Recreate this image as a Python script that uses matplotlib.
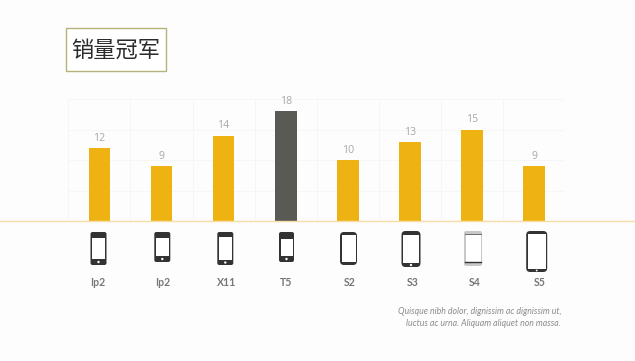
import matplotlib
matplotlib.use('Agg')
import matplotlib.pyplot as plt
from matplotlib.patches import FancyBboxPatch, Rectangle, Circle

W, H = 635, 361

names = ['Ip2', 'Ip2', 'X11', 'T5', 'S2', 'S3', 'S4', 'S5']
sales = [12, 9, 14, 18, 10, 13, 15, 9]
bar_colors = ['#eeb313', '#eeb313', '#eeb313', '#5a5a54', '#eeb313', '#eeb313', '#eeb313', '#eeb313']
title = '销量冠军'
note = 'Quisque nibh dolor, dignissim ac dignissim ut,\nluctus ac urna. Aliquam aliquet non massa.'

# label positions drift away from the bars in the original slide
name_x = [98, 163, 227, 286, 349.5, 413, 475, 540]

# phone icons: centre x, top, bottom, width, top band, bottom band, button, rounding, light
icons = [
    (98.5, 232, 265, 16, 6, 6, True, 2, False),
    (162.3, 232, 262, 16, 6, 6, True, 2, False),
    (225.3, 232, 265, 16, 5, 5, True, 2, False),
    (286.5, 232, 262, 15, 7, 6, True, 2, False),
    (348.5, 232, 265, 17, 3, 3, False, 4, False),
    (411, 231, 267, 19, 4, 4, True, 4, False),
    (473, 231, 266, 18, 3, 3, False, 2, True),
    (536.7, 231, 272, 21, 3, 3, True, 4, False),
]

fig = plt.figure(figsize=(W / 100, H / 100), dpi=100, facecolor='#fdfdfd')

# chart area
ax = fig.add_axes([68.3 / W, 1 - 221 / H, 497 / W, 122 / H])
ax.patch.set_alpha(0)
x = list(range(len(names)))
ax.bar(x, sales, width=21.7 / 62.1, color=bar_colors, zorder=3)
ax.set_xlim(-0.5, 7.5)
ax.set_ylim(0, 20)
ax.set_xticks([i - 0.5 for i in range(9)])
ax.set_yticks([0, 5, 10, 15, 20])
ax.grid(color='#f6f6f6', lw=0.7, zorder=0)
ax.tick_params(length=0, labelbottom=False, labelleft=False)
for s in ax.spines.values():
    s.set_visible(False)
for i, v in enumerate(sales):
    ax.annotate(str(v), (i, v), xytext=(0, 3), textcoords='offset points', ha='center', va='bottom',
                fontsize=7.6, color='#a8a8a8', family='Open Sans', zorder=4)

# page decoration in pixel coordinates
deco = fig.add_axes([0, 0, 1, 1], zorder=5)
deco.set_xlim(0, W)
deco.set_ylim(H, 0)
deco.axis('off')
deco.plot([0, W], [221, 221], color='#f6dca6', lw=1)

for nx, n in zip(name_x, names):
    deco.text(nx, 282, n, ha='center', va='center', fontsize=7.6, color='#777777',
              family='Lato', fontweight='bold')

deco.add_patch(Rectangle((66, 28), 100, 43, fc='white', ec='#b5b37a', lw=1))
deco.text(115.5, 50, title, ha='center', va='center', fontsize=16, color='#2b2b2b',
          family='Noto Sans CJK SC', fontweight='light')

deco.text(561, 317.5, note, ha='right', va='center', fontsize=6.35, color='#8c8c8c',
          family='Lato', style='italic', linespacing=1.45)

for cx, top, bot, w, tb, bb, btn, r, light in icons:
    left = cx - w / 2
    edge = '#c8c8c8' if light else '#333333'
    deco.add_patch(FancyBboxPatch((left + r, top + r), w - 2 * r, bot - top - 2 * r,
                                  boxstyle=f'round,pad={r},rounding_size={r}', fc=edge, ec='none'))
    deco.add_patch(Rectangle((left + 1.5, top + tb), w - 3, bot - top - tb - bb, fc='white', ec='none'))
    if light:
        deco.plot([left + 1, left + w - 1], [bot - bb - 1, bot - bb - 1], color='#333333', lw=1)
        deco.plot([left + 1, left + w - 1], [top + tb, top + tb], color='#555555', lw=0.6)
    if btn:
        deco.add_patch(Circle((cx, bot - bb / 2), min(bb, 4) * 0.3, fc='white', ec='none'))

fig.savefig('out.png', dpi=100, facecolor=fig.get_facecolor())
